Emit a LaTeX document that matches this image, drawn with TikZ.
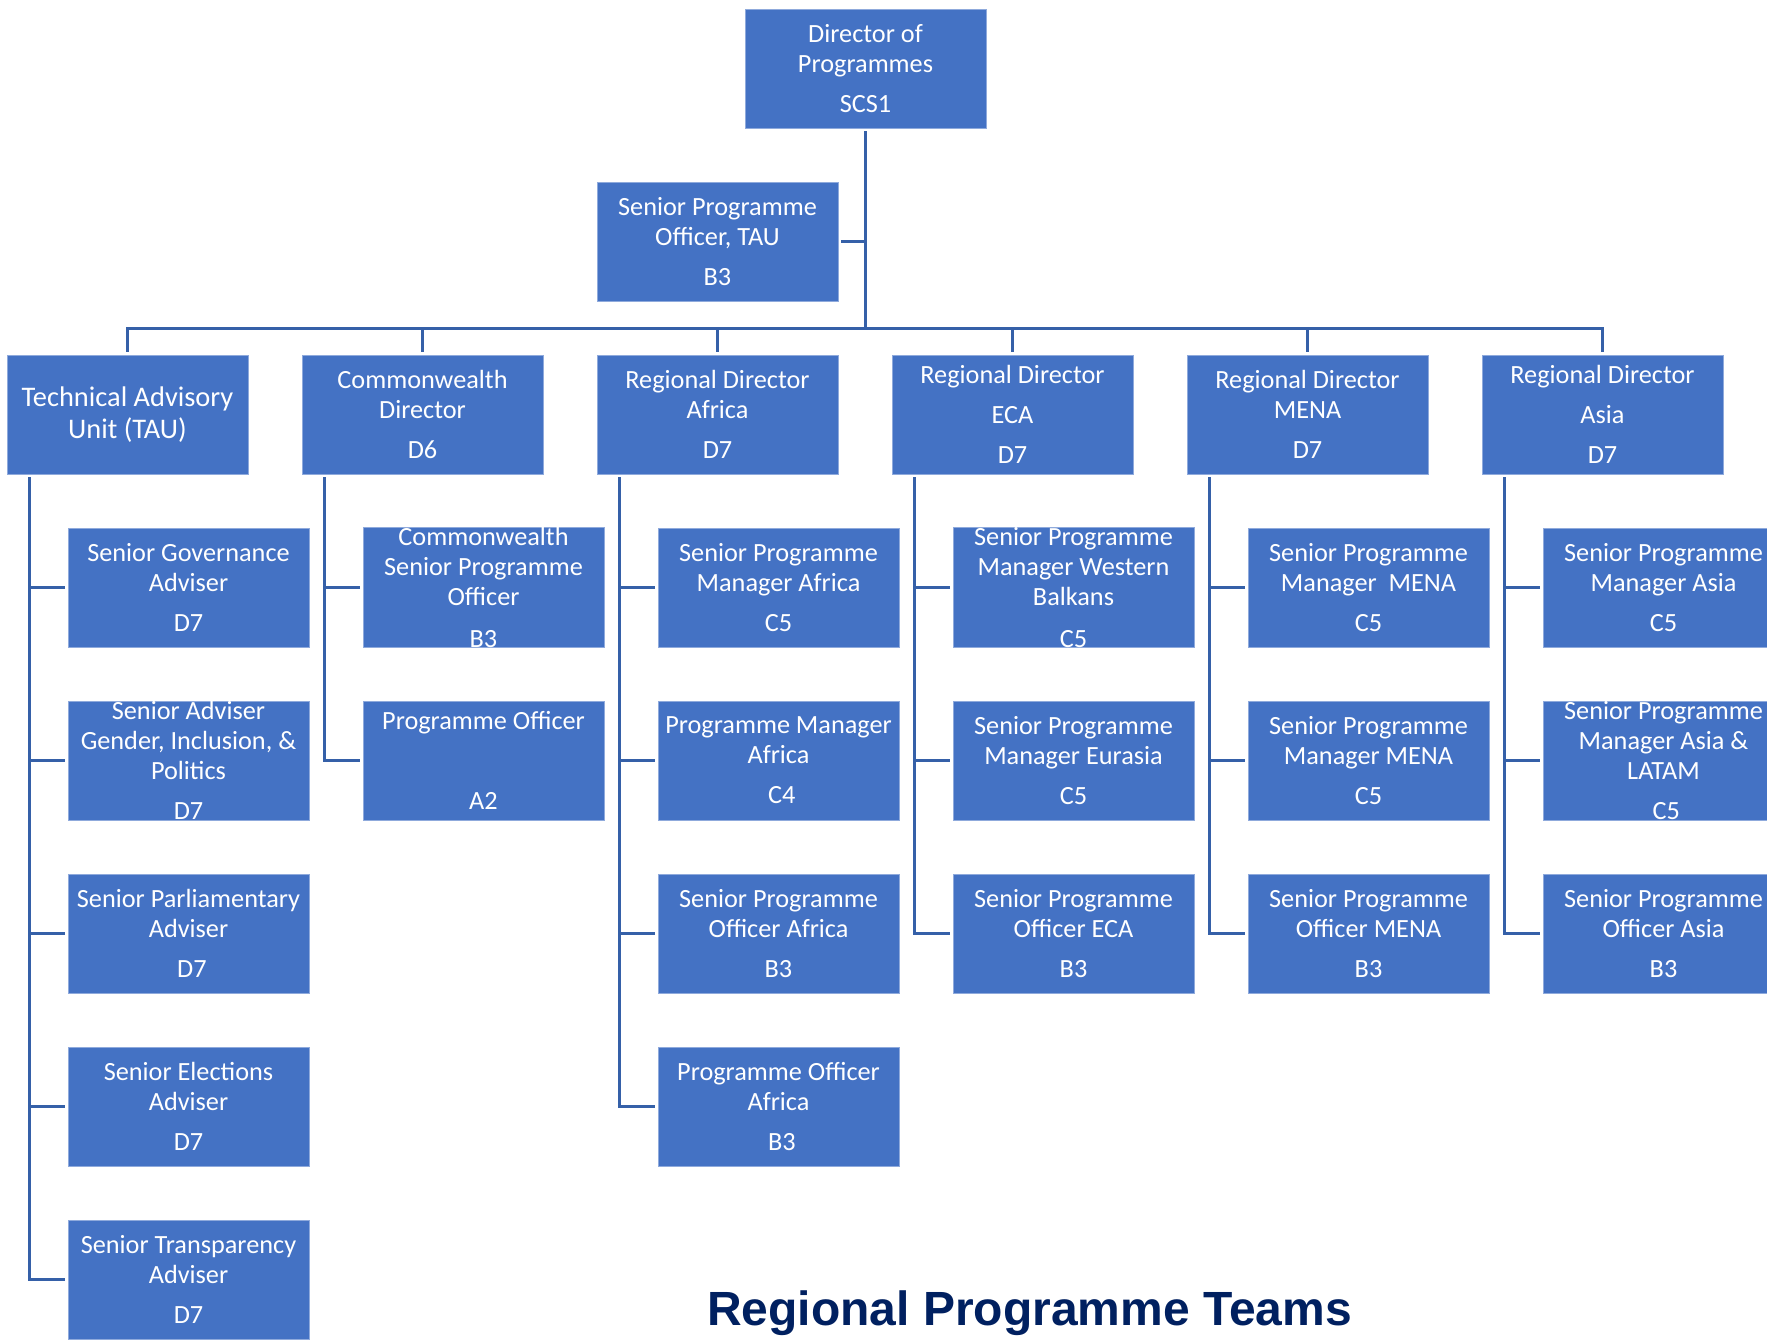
\documentclass[tikz,border=0pt]{standalone}
\usepackage{fontspec}
\setmainfont{Carlito}
\newfontfamily\titlefont{Liberation Sans}
\definecolor{boxblue}{HTML}{4472C4}
\definecolor{boxedge}{HTML}{8FAADC}
\definecolor{linkblue}{HTML}{3560A8}
\definecolor{titlenavy}{HTML}{002060}
\tikzset{
  unitbox/.style={rectangle, fill=boxblue, draw=boxedge, line width=0.6pt,
    minimum width=180.75pt, minimum height=89.25pt, inner sep=0pt,
    align=center, text=white, font=\fontsize{19.7}{22.5}\selectfont},
  link/.style={draw=linkblue, line width=2.25pt},
}
\begin{document}
\begin{tikzpicture}[x=0.75pt,y=-0.75pt]
\useasboundingbox (0,0) rectangle (1767,1340);
\clip (0,0) rectangle (1767,1340);
\fill[white] (0,0) rectangle (1767,1340);

% top
\node[unitbox] (dir) at (865.5,68.5) {Director of\\Programmes\\[7.5pt]SCS1};
\node[unitbox] (spo) at (717.5,241.5) {Senior Programme\\Officer, TAU\\[7.5pt]B3};
\coordinate (bus) at (865.5,328);

% level 2
\node[unitbox, font=\fontsize{21.3}{23.4}\selectfont] (l0) at (127.5,414.5) {Technical Advisory\\Unit (TAU)};
\node[unitbox] (l1) at (422.5,414.5) {Commonwealth\\Director\\[7.5pt]D6};
\node[unitbox] (l2) at (717.5,414.5) {Regional Director\\Africa\\[7.5pt]D7};
\node[unitbox] (l3) at (1012.5,414.5) {Regional Director\\[7.5pt]ECA\\[7.5pt]D7};
\node[unitbox] (l4) at (1307.5,414.5) {Regional Director\\MENA\\[7.5pt]D7};
\node[unitbox] (l5) at (1602.5,414.5) {Regional Director\\[7.5pt]Asia\\[7.5pt]D7};

% column 0: TAU
\node[unitbox] (c00) at (188.5,587.5) {Senior Governance\\Adviser\\[7.5pt]D7};
\node[unitbox] (c01) at (188.5,760.5) {Senior Adviser\\Gender, Inclusion, \&\\Politics\\[7pt]D7};
\node[unitbox] (c02) at (188.5,933.5) {Senior Parliamentary\\Adviser\\[7.5pt]\hspace*{5pt}D7};
\node[unitbox] (c03) at (188.5,1106.5) {Senior Elections\\Adviser\\[7.5pt]D7};
\node[unitbox] (c04) at (188.5,1279.5) {Senior Transparency\\Adviser\\[7.5pt]D7};

% column 1: Commonwealth
\node[unitbox] (c10) at (483.5,587.5) {Commonwealth\\Senior Programme\\Officer\\[9pt]B3};
\node[unitbox] (c11) at (483.5,760.5) {Programme Officer\\[37.5pt]A2};

% column 2: Africa
\node[unitbox] (c20) at (778.5,587.5) {Senior Programme\\Manager Africa\\[7.5pt]C5};
\node[unitbox] (c21) at (778.5,760.5) {Programme Manager\\Africa\\[7.5pt]\hspace*{5pt}C4};
\node[unitbox] (c22) at (778.5,933.5) {Senior Programme\\Officer Africa\\[7.5pt]B3};
\node[unitbox] (c23) at (778.5,1106.5) {Programme Officer\\Africa\\[7.5pt]\hspace*{5pt}B3};

% column 3: ECA
\node[unitbox] (c30) at (1073.5,587.5) {Senior Programme\\Manager Western\\Balkans\\[9pt]C5};
\node[unitbox] (c31) at (1073.5,760.5) {Senior Programme\\Manager Eurasia\\[7.5pt]C5};
\node[unitbox] (c32) at (1073.5,933.5) {Senior Programme\\Officer ECA\\[7.5pt]B3};

% column 4: MENA
\node[unitbox] (c40) at (1368.5,587.5) {Senior Programme\\Manager~ MENA\\[7.5pt]C5};
\node[unitbox] (c41) at (1368.5,760.5) {Senior Programme\\Manager MENA\\[7.5pt]C5};
\node[unitbox] (c42) at (1368.5,933.5) {Senior Programme\\Officer MENA\\[7.5pt]B3};

% column 5: Asia
\node[unitbox] (c50) at (1663.5,587.5) {Senior Programme\\Manager Asia\\[7.5pt]C5};
\node[unitbox] (c51) at (1663.5,760.5) {Senior Programme\\Manager Asia \&\\LATAM\\[7pt]\hspace*{4pt}C5};
\node[unitbox] (c52) at (1663.5,933.5) {Senior Programme\\Officer Asia\\[7.5pt]B3};

% title
\node[font=\titlefont\bfseries\fontsize{36}{40}\selectfont, text=titlenavy,
  anchor=base, inner sep=0pt] (title) at (1029.5,1325) {Regional Programme Teams};

% connectors
\draw[link, shorten <=2.25pt] (dir.south) -- (bus);
\draw[link, shorten <=2pt] (spo.east) -- (dir.south |- spo.east);
\foreach \i in {0,...,5}
  \draw[link, shorten >=2pt] (bus) -| (l\i.north);

\foreach \i in {0,...,5}
  \coordinate (v\i) at ([xshift=16.875pt, yshift=-2.25pt]l\i.south west);

\foreach \c/\r in {0/0,0/1,0/2,0/3,0/4,1/0,1/1,2/0,2/1,2/2,2/3,3/0,3/1,3/2,4/0,4/1,4/2,5/0,5/1,5/2}
  \draw[link, shorten >=2.25pt] (v\c) |- (c\c\r.west);
\end{tikzpicture}
\end{document}
